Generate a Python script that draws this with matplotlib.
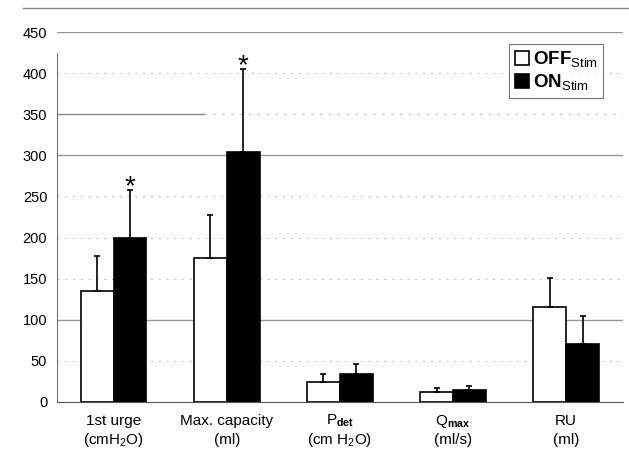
import numpy as np
import matplotlib
matplotlib.use('Agg')
import matplotlib.pyplot as plt
from matplotlib.lines import Line2D

plt.rcParams['font.family'] = ['Liberation Sans', 'DejaVu Sans']
plt.rcParams['mathtext.fontset'] = 'custom'
plt.rcParams['mathtext.rm'] = 'Liberation Sans'
plt.rcParams['mathtext.bf'] = 'Liberation Sans:bold'
plt.rcParams['mathtext.it'] = 'Liberation Sans:italic'

cat_names = ['1st urge', 'Max. capacity', 'P$_{\\mathbf{det}}$', 'Q$_{\\mathbf{max}}$', 'RU']
cat_units = ['(cmH$_2$O)', '(ml)', '(cm H$_2$O)', '(ml/s)', '(ml)']
off_vals = [135, 175, 24, 12, 115]
off_err_top = [178, 228, 34, 17, 151]
on_vals = [200, 304, 34, 14, 71]
on_err_top = [258, 405, 46, 20, 105]
significant = [True, True, False, False, False]

fig = plt.figure(figsize=(6.29, 4.49), dpi=100)
ax = fig.add_axes([0.0906, 0.1047, 0.8994, 0.824])

x = np.arange(len(cat_names))
w = 0.29

# grid lines: some solid, some faint dotted like the scanned original
for y in [100, 300, 450]:
    ax.axhline(y, color='#999999', lw=1.0, zorder=0)
ax.axhline(350, xmin=0, xmax=0.26, color='#888888', lw=1.0, zorder=0)
ax.axhline(350, xmin=0.26, xmax=1, color='#bbbbbb', lw=0.8, ls=(0, (2, 6)), zorder=0)
for y in [50, 150, 200, 250, 400]:
    ax.axhline(y, color='#c4c4c4', lw=0.8, ls=(0, (2, 5)), zorder=0)

off_err = np.array(off_err_top) - np.array(off_vals)
on_err = np.array(on_err_top) - np.array(on_vals)

ax.bar(x - w / 2, off_vals, w, color='white', edgecolor='black', lw=1.2, zorder=2)
ax.bar(x + w / 2, on_vals, w, color='black', edgecolor='black', lw=1.2, zorder=2)
ax.errorbar(x - w / 2, off_vals, yerr=[np.zeros(len(x)), off_err], fmt='none',
            ecolor='black', elinewidth=1.2, capsize=2.5, capthick=1.2, zorder=3)
ax.errorbar(x + w / 2, on_vals, yerr=[np.zeros(len(x)), on_err], fmt='none',
            ecolor='black', elinewidth=1.2, capsize=2.5, capthick=1.2, zorder=3)

for i, sig in enumerate(significant):
    if sig:
        ax.text(x[i] + w / 2, on_err_top[i] + 3, '*', ha='center', va='center',
                fontsize=20, color='black')

ax.set_xlim(-0.5, 4.5)
ax.set_ylim(0, 450)
ax.set_yticks(np.arange(0, 451, 50))
ax.set_xticks(x)
ax.set_xticklabels([])
ax.tick_params(axis='x', length=0)
ax.tick_params(axis='y', length=0, pad=7, labelsize=10.5)

# two-line category labels, each line placed at a fixed height
tr = ax.get_xaxis_transform()
for i in range(len(x)):
    ax.text(x[i], -0.052, cat_names[i], transform=tr, ha='center', va='center', fontsize=11)
    ax.text(x[i], -0.104, cat_units[i], transform=tr, ha='center', va='center', fontsize=11)

for s in ['top', 'right']:
    ax.spines[s].set_visible(False)
ax.spines['left'].set_color('#777777')
ax.spines['left'].set_linestyle((0, (1, 1)))
ax.spines['left'].set_bounds(0, 425)
ax.spines['bottom'].set_color('#555555')

handles = [plt.Rectangle((0, 0), 1, 1, fc='white', ec='black', lw=1.2),
           plt.Rectangle((0, 0), 1, 1, fc='black', ec='black', lw=1.2)]
leg = ax.legend(handles, [r'OFF$_{\rm Stim}$', r'ON$_{\rm Stim}$'],
                loc='upper right', bbox_to_anchor=(0.966, 0.968), borderaxespad=0,
                fancybox=False, frameon=True, edgecolor='#555555',
                handlelength=0.75, handleheight=0.75, handletextpad=0.2,
                borderpad=0.3, labelspacing=0.15,
                prop={'size': 13.5, 'weight': 'bold'})
leg.get_frame().set_linewidth(0.8)

fig.add_artist(Line2D([23 / 629, 1], [1 - 8 / 449, 1 - 8 / 449], color='#888888', lw=1.0))

fig.savefig('out.png', dpi=100)
